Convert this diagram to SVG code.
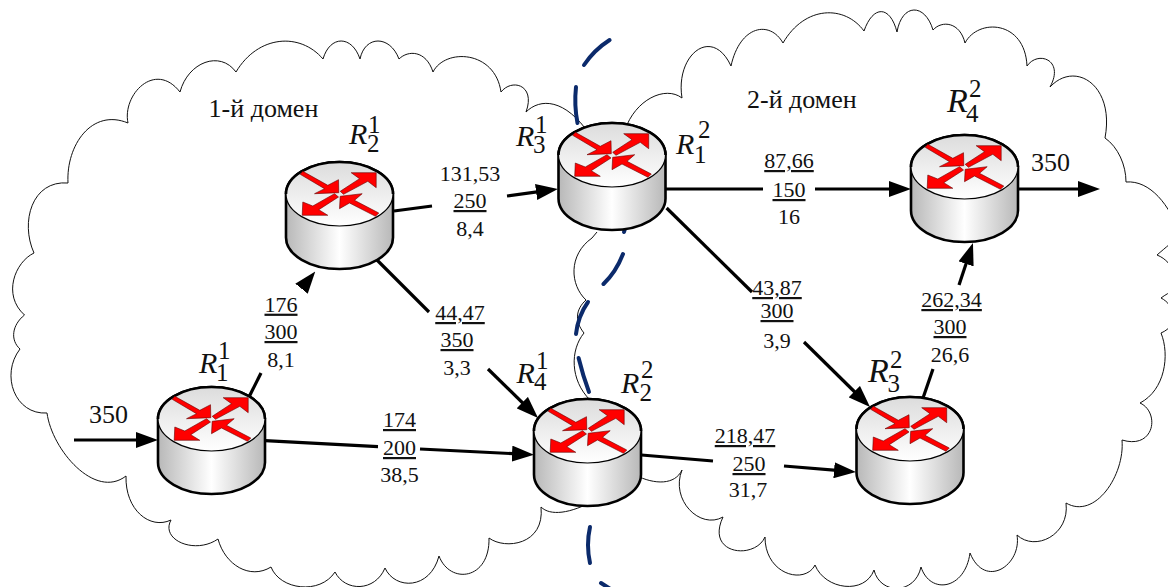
<svg xmlns="http://www.w3.org/2000/svg" xmlns:xlink="http://www.w3.org/1999/xlink" width="1168" height="587" viewBox="0 0 1168 587">
<style>
text{font-family:"Liberation Serif","Times New Roman",serif;fill:#111}
.n{font-size:22px;text-anchor:middle}
.u{text-decoration:underline}
.b{font-size:26px}
.r{font-size:30px;font-style:italic}
.R{font-size:34px;font-style:italic}
.s{font-size:25px}
.cloud{fill:none;stroke:#111;stroke-width:1}
.dash{fill:none;stroke:#0b2a6b;stroke-width:4;stroke-linecap:round}
.c{fill:none;stroke:#000;stroke-width:3.2}
.a{marker-end:url(#arrow)}
.rb{fill:url(#body);stroke:#000;stroke-width:2.6}
.rt{fill:url(#top);stroke:#000;stroke-width:1.2}
.ra{fill:#f00;stroke:#600;stroke-width:.6}
</style>
<defs>
<linearGradient id="body" x1="0" x2="1" y1="0" y2="0"><stop offset="0" stop-color="#b8b8b8"/><stop offset=".5" stop-color="#fff"/><stop offset="1" stop-color="#b8b8b8"/></linearGradient>
<linearGradient id="top" x1="0" x2="0" y1="0" y2="1"><stop offset="0" stop-color="#dcdcdc"/><stop offset="1" stop-color="#fff"/></linearGradient>
<marker id="arrow" markerUnits="userSpaceOnUse" markerWidth="22" markerHeight="16" refX="12" refY="8" orient="auto"><path d="M0,0L22,8L0,16Z" fill="#000"/></marker>
<g id="router">
<path class="rb" d="M-53.5,32V75.5A53.5,31.5 0 0 0 53.5,75.5V32A53.5,32 0 0 0-53.5,32Z"/>
<ellipse class="rt" cx="0" cy="32" rx="53.5" ry="32"/>
<path class="rb" fill="none" style="fill:none" d="M-53.5,32A53.5,32 0 0 1 53.5,32"/>
<path class="ra" d="M-36.7,9.3L-11.7,23.3L-1,17.7L-.7,30.7L-25,31.7L-15,26.7L-39.3,12.3Z"/>
<path class="ra" d="M.7,29.3L20,16.7L11.7,10.7L36.7,10.7L36.7,25.7L28.3,19.3L4,32.3Z"/>
<path class="ra" d="M-5,31.7L-26.7,44L-36.7,40L-37.3,53.3L-11.7,53.3L-20.7,47.7L-1,35Z"/>
<path class="ra" d="M.7,34.3L22.7,31.7L15,38.3L39.3,51L36,54.3L10,41L0,46.7Z"/>
</g>
</defs>
<g id="clouds">
<path id="cloud1" class="cloud" d="M34,253C20,222 32,180 68,183C66,145 92,108 128,123C122,95 155,60 180,92C188,62 220,50 236,72C258,35 300,32 323,59C330,35 352,35 360,59C365,35 390,35 399,59C408,50 426,50 433,72C445,48 495,50 501,92C512,78 536,85 526,112C540,98 565,98 590,135M34,253C15,262 2,295 24.500,315C12,325 10,340 20,349C0,375 15,415 47,413C52,450 95,500 126,476C125,510 150,530 171,520C160,540 195,555 218,539C225,565 250,580 271,567C280,590 320,595 335,572C345,592 375,592 385,568C395,590 430,590 439,556C450,585 490,580 489,538C505,550 545,545 541,507C550,516 570,514 595,500"/>
<path id="cloud2" class="cloud" d="M625,130C635,100 665,85 682,98C675,55 712,25 731,66C740,25 770,20 783,43C805,5 845,5 864,31C873,5 890,5 897,32C902,3 925,3 933,30C942,20 960,22 965,43C978,18 1025,20 1027,66C1038,50 1065,60 1050,87C1075,60 1115,85 1105,138C1118,147 1126,165 1126,182C1150,180 1170,205 1180,235C1175,240 1165,248 1157,255C1175,262 1180,285 1175,290C1170,292 1165,295 1161,298C1175,305 1180,325 1161,333C1170,355 1165,390 1140,403C1160,412 1155,450 1122,440C1125,475 1095,520 1066,503C1070,535 1035,552 1017,535C1022,565 985,590 970,553C965,590 930,595 921,567C915,595 880,595 874,570C865,595 825,590 815,565C805,585 765,575 765,537C755,560 705,555 723,517C700,530 670,500 682,470C675,485 655,485 635,475"/>
<path id="cloud-mid" class="cloud" d="M597,232L592,238C568,255 570,285 586,300C575,310 575,322 584,333C570,350 570,380 590,400"/>
</g>
<g id="boundary">
<path class="dash" d="M609.600,40Q594,50 584,65"/>
<path class="dash" d="M576,87Q574,105 577.500,123"/>
<path class="dash" d="M627,222L624,232"/>
<path class="dash" d="M623,254Q616,272 603.500,284"/>
<path class="dash" d="M588,302Q578,316 576,334"/>
<path class="dash" d="M578.600,358Q583,376 589,392"/>
<path class="dash" d="M590,527Q586,545 590,563"/>
<path class="dash" d="M601,583L612,590"/>
</g>
<g id="connectors">
<path class="c a" d="M74,440H148"/>
<path class="c" d="M249,397L261,373"/>
<path class="c a" d="M302,288L309,279.300"/>
<path class="c" d="M265,440.700L378,446.700"/>
<path class="c a" d="M420,449L524,454.200"/>
<path class="c" d="M394,211L432,206"/>
<path class="c a" d="M507,196L548,190.400"/>
<path class="c" d="M377,260L429,312"/>
<path class="c a" d="M488,369L530.900,411"/>
<path class="c" d="M666,189H763"/>
<path class="c a" d="M815,189H901"/>
<path class="c a" d="M1018,189H1090"/>
<path class="c" d="M666.600,208L752,292"/>
<path class="c a" d="M804,342L862.900,400"/>
<path class="c" d="M641.400,455L713,461"/>
<path class="c a" d="M784,466L846,471.200"/>
<path class="c" d="M923,398L933,369"/>
<path class="c a" d="M959,285L969.800,252.500"/>
</g>
<g id="R11"><use xlink:href="#router" href="#router" x="211.500" y="387"/></g>
<g id="R21"><use xlink:href="#router" href="#router" x="339.500" y="162"/></g>
<g id="R31"><use xlink:href="#router" href="#router" x="612" y="123"/></g>
<g id="R22"><use xlink:href="#router" href="#router" x="587.500" y="399"/></g>
<g id="R42"><use xlink:href="#router" href="#router" x="964.500" y="135"/></g>
<g id="R32"><use xlink:href="#router" href="#router" x="910" y="397"/></g>
<g id="router-labels">
<text class="r" x="199" y="373">R</text><text class="s" x="216" y="381">1</text><text class="s" x="218" y="359">1</text>
<text class="r" x="349" y="144">R</text><text class="s" x="367" y="152">2</text><text class="s" x="368" y="133">1</text>
<text class="r" x="516" y="146">R</text><text class="s" x="533" y="153">3</text><text class="s" x="535" y="133">1</text>
<text class="r" x="516.600" y="383">R</text><text class="s" x="534" y="390">4</text><text class="s" x="536" y="369">1</text>
<text class="r" x="676" y="154">R</text><text class="s" x="694" y="163">1</text><text class="s" x="698" y="138">2</text>
<text class="r" x="621" y="393">R</text><text class="s" x="639.500" y="400.700">2</text><text class="s" x="641" y="378">2</text>
<text class="R" x="868" y="382">R</text><text class="s" x="887.600" y="392">3</text><text class="s" x="890" y="368">2</text>
<text class="R" x="947" y="112">R</text><text class="s" x="966" y="122">4</text><text class="s" x="969" y="97">2</text>
</g>
<g id="labels">
<text class="b" x="208.600" y="117">1-й домен</text>
<text class="b" x="747" y="108">2-й домен</text>
<text class="b" x="89" y="423">350</text>
<text class="b" x="1031" y="171">350</text>
<text class="n u" x="281" y="311.700">176</text><text class="n u" x="281" y="339">300</text><text class="n" x="281" y="366.700">8,1</text>
<text class="n" x="470" y="180.700">131,53</text><text class="n u" x="470" y="208">250</text><text class="n" x="470" y="236">8,4</text>
<text class="n u" x="460" y="320">44,47</text><text class="n u" x="457" y="347">350</text><text class="n" x="457" y="375">3,3</text>
<text class="n u" x="399.500" y="427">174</text><text class="n u" x="399.500" y="455">200</text><text class="n" x="399.500" y="482">38,5</text>
<text class="n u" x="789" y="168">87,66</text><text class="n u" x="789" y="197">150</text><text class="n" x="789" y="224">16</text>
<text class="n u" x="777" y="295">43,87</text><text class="n u" x="777" y="318">300</text><text class="n" x="777" y="348">3,9</text>
<text class="n u" x="745" y="443">218,47</text><text class="n u" x="749" y="471">250</text><text class="n" x="748" y="497">31,7</text>
<text class="n u" x="951.600" y="307">262,34</text><text class="n u" x="950" y="334">300</text><text class="n" x="950" y="362">26,6</text>
</g>
</svg>
